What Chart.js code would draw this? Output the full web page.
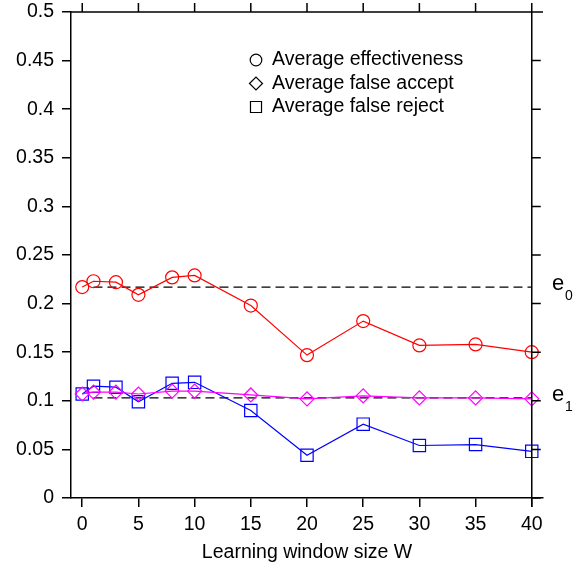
<!DOCTYPE html>
<html>
<head>
<meta charset="utf-8">
<script src="https://cdn.jsdelivr.net/npm/chart.js@4/dist/chart.umd.min.js"></script>
<style>
  html, body { margin: 0; padding: 0; background: #fff; }
  #wrap { width: 583px; height: 564px; position: relative; }
</style>
</head>
<body>
<div id="wrap"><canvas id="c"></canvas></div>
<script>
// window sizes W
const windowSizes = [0, 1, 3, 5, 8, 10, 15, 20, 25, 30, 35, 40];
const effectiveness = [0.217, 0.223, 0.222, 0.209, 0.227, 0.229, 0.198, 0.147, 0.182, 0.157, 0.158, 0.150];
const falseAccept = [0.107, 0.109, 0.109, 0.107, 0.110, 0.110, 0.106, 0.102, 0.105, 0.103, 0.103, 0.102];
const falseReject = [0.107, 0.115, 0.114, 0.099, 0.118, 0.119, 0.090, 0.044, 0.076, 0.054, 0.055, 0.048];
const e0 = 0.217, e1 = 0.103;
const refRange = [1, 40];
const xTicks = [0, 5, 10, 15, 20, 25, 30, 35, 40];
const yTicks = [0, 0.05, 0.1, 0.15, 0.2, 0.25, 0.3, 0.35, 0.4, 0.45, 0.5];

const FONT = '"Liberation Sans", Arial, Helvetica, sans-serif';
const SIZE = 19.5;
const pts = (ys) => windowSizes.map((x, i) => ({ x, y: ys[i] }));
const refLine = (v) => refRange.map((x) => ({ x, y: v }));

const datasets = [
  { label: 'Average effectiveness', data: pts(effectiveness), borderColor: '#ff0000', pointStyle: 'circle', pointRadius: 6.5, legendRadius: 5.8, order: 1 },
  { label: 'Average false accept', data: pts(falseAccept), borderColor: '#ff00ff', pointStyle: 'rectRot', pointRadius: 7, legendRadius: 6.5, order: 1 },
  { label: 'Average false reject', data: pts(falseReject), borderColor: '#0000ff', pointStyle: 'rect', pointRadius: 8.7, legendRadius: 7.8, order: 2 },
].map((d) => ({ ...d, backgroundColor: 'transparent', pointBorderColor: d.borderColor, borderWidth: 1.2, pointBorderWidth: 1.2 }));

const refSets = [e0, e1].map((v) => ({
  label: 'ref', data: refLine(v), borderColor: '#000', borderWidth: 1.2, borderDash: [9, 5],
  pointRadius: 0, order: 5,
}));

// extra frame: top ticks, right line at x=40 with ticks, legend, e labels
const framePlugin = {
  id: 'frame',
  afterDraw(chart) {
    const { ctx, chartArea: a, scales: { x, y } } = chart;
    const t = 9;
    const xr = x.getPixelForValue(40);
    ctx.save();
    ctx.strokeStyle = '#000';
    ctx.lineWidth = 1.5;
    ctx.beginPath();
    ctx.moveTo(a.left, a.top); ctx.lineTo(a.right, a.top);
    ctx.moveTo(xr, a.top - t); ctx.lineTo(xr, a.bottom + t);
    xTicks.forEach((v) => { const px = x.getPixelForValue(v); ctx.moveTo(px, a.top); ctx.lineTo(px, a.top - t); });
    yTicks.forEach((v) => { const py = y.getPixelForValue(v); ctx.moveTo(xr, py); ctx.lineTo(xr + t, py); });
    ctx.stroke();

    // legend, hollow black markers
    ctx.font = SIZE + 'px ' + FONT;
    ctx.textBaseline = 'middle';
    ctx.textAlign = 'left';
    datasets.forEach((d, i) => {
      const ly = a.top + 48 + i * 23.5;
      const lx = a.left + 185;
      ctx.strokeStyle = '#000';
      ctx.fillStyle = 'rgba(0,0,0,0)';
      ctx.lineWidth = 1.2;
      Chart.helpers.drawPoint(ctx, { pointStyle: d.pointStyle, radius: d.legendRadius, borderWidth: 1.2 }, lx, ly);
      ctx.fillStyle = '#000';
      ctx.fillText(d.label, lx + 16, ly);
    });

    // e0 / e1 labels
    ctx.fillStyle = '#000';
    [[e0, '0'], [e1, '1']].forEach(([v, sub]) => {
      const py = y.getPixelForValue(v);
      ctx.font = '22px ' + FONT;
      ctx.fillText('e', a.right + 9, py - 3);
      ctx.font = '14px ' + FONT;
      ctx.fillText(sub, a.right + 22, py + 9);
    });
    ctx.restore();
  },
};

new Chart(document.getElementById('c'), {
  type: 'line',
  data: { datasets: [...datasets, ...refSets] },
  options: {
    responsive: true,
    maintainAspectRatio: false,
    animation: false,
    layout: { padding: { top: 12, right: 40, left: 0, bottom: 0 } },
    plugins: { legend: { display: false }, tooltip: { enabled: false } },
    elements: { line: { tension: 0 } },
    scales: {
      x: {
        type: 'linear', min: -1, max: 41,
        afterBuildTicks: (s) => { s.ticks = xTicks.map((value) => ({ value })); },
        afterFit: (s) => { s.height = 66; s.paddingLeft = 0; s.paddingRight = 0; },
        grid: { drawOnChartArea: false, drawTicks: true, tickLength: 9, color: '#000', lineWidth: 1.5 },
        border: { display: true, color: '#000', width: 1.5 },
        ticks: { color: '#000', padding: 6, maxRotation: 0, font: { family: FONT, size: SIZE } },
        title: { display: true, text: 'Learning window size W', color: '#000', padding: { top: 1, bottom: 0 }, font: { family: FONT, size: SIZE } },
      },
      y: {
        type: 'linear', min: 0, max: 0.5,
        afterBuildTicks: (s) => { s.ticks = yTicks.map((value) => ({ value })); },
        afterFit: (s) => { s.width = 71; s.paddingTop = 0; s.paddingBottom = 0; },
        grid: { drawOnChartArea: false, drawTicks: true, tickLength: 9, color: '#000', lineWidth: 1.5 },
        border: { display: true, color: '#000', width: 1.5 },
        ticks: { color: '#000', padding: 8, font: { family: FONT, size: SIZE }, callback: (v) => String(+v.toFixed(2)) },
      },
    },
  },
  plugins: [framePlugin],
});
</script>
</body>
</html>
